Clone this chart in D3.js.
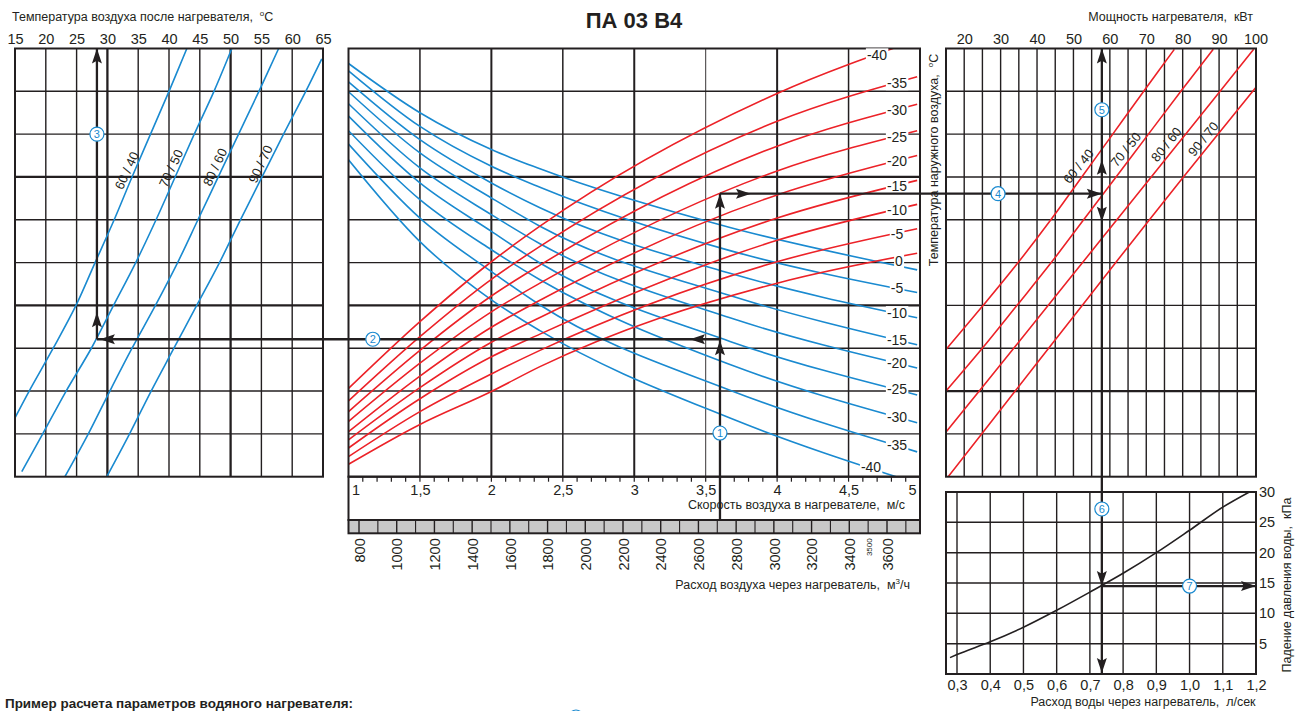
<!DOCTYPE html>
<html lang="ru"><head><meta charset="utf-8"><title>ПА 03 В4</title>
<script src="https://cdn.jsdelivr.net/npm/d3@7/dist/d3.min.js"></script>
<style>html,body{margin:0;padding:0;background:#fff;}svg{display:block;} text{white-space:pre;}</style>
</head><body>
<svg id="chart" width="1300" height="711" viewBox="0 0 1300 711"></svg>
<script>
// ================= DATA =================
const outletTempTicks = [15,20,25,30,35,40,45,50,55,60,65];
const powerTicks = [20,30,40,50,60,70,80,90,100];
const powerGrid = [20,25,30,35,40,45,50,55,60,65,70,75,80,85,90,95];
const speedTicks = [1,1.5,2,2.5,3,3.5,4,4.5,5];
const airFlowTicks = [800,1000,1200,1400,1600,1800,2000,2200,2400,2600,2800,3000,3200,3400,3600];
const airFlowSmallTick = [3500];
const waterFlowTicks = [0.3,0.4,0.5,0.6,0.7,0.8,0.9,1.0,1.1,1.2];
const pressureTicks = [5,10,15,20,25,30];
const regimeNames = ["60 / 40","70 / 50","80 / 60","90 / 70"];
const gridRows = [1,2,3,4,5,6,7,8,9];

// left panel: outlet air temperature of each water regime along the common ordinate rows
const outletRegimeRows = [
  [10,9,8,7,6,5,4,3,2,1.375],
  [10,9,8,7,6,5,4,3,2,1,0.12],
  [10,9,8,7,6,5,4,3,2,1,0],
  [9.76,9,8,7,6,5,4,3,2,1,0]
];
const outletRegimeTemps = [
  [42.9,40.0,37.0,34.0,31.1,28.0,24.9,21.2,17.3,15.0],
  [50.2,47.3,44.1,41.0,37.9,34.6,31.0,27.4,23.3,19.5,16.1],
  [57.8,54.6,51.3,48.0,44.7,41.4,37.8,34.0,30.4,26.9,23.1],
  [64.8,62.2,58.6,55.1,51.6,48.2,44.5,40.8,37.1,33.6,29.9]
];

// centre panel: blue curves (outlet side) per outdoor temperature
const blueOutdoor = [0,-5,-10,-15,-20,-25,-30,-35,-40];
const blueSpeeds = [1,1.5,2,2.34,3.67,4.98];
const blueRows = [
  [9.65,8.50,7.64,7.19,5.82,4.83],
  [9.48,8.18,7.25,6.76,5.28,4.30],
  [9.22,7.87,6.86,6.28,4.75,3.71],
  [8.99,7.56,6.51,5.85,4.23,3.08],
  [8.71,7.21,6.12,5.44,3.71,2.54],
  [8.42,6.86,5.73,4.99,3.16,1.91],
  [8.08,6.47,5.30,4.60,2.62,1.26],
  [7.77,6.04,4.79,4.01,2.02,0.58],
  [7.40,5.49,4.13,3.41,1.37,-0.16]
];
// centre panel: red curves (power side) per outdoor temperature
const redOutdoor = [-40,-35,-30,-25,-20,-15,-10,-5,0];
const redSpeeds = [1,1.5,2,2.34,4,4.98];
const redRows = [
  [2.06,3.62,5.02,5.85,8.95,10.2],
  [1.77,3.27,4.61,5.38,8.30,9.34],
  [1.52,2.95,4.22,4.94,7.72,8.70],
  [1.29,2.65,3.85,4.52,7.14,8.08],
  [1.05,2.35,3.49,4.12,6.58,7.50],
  [0.86,2.08,3.14,3.72,6.04,6.92],
  [0.67,1.82,2.80,3.33,5.52,6.36],
  [0.47,1.52,2.40,2.95,5.02,5.79],
  [0.29,1.22,1.99,2.57,4.52,5.22]
];

// right panel: heater power of each water regime along the ordinate rows
const powerRegimeRows = [
  [2.96,3.99,4.99,6,7,8,9,9.98],
  [1.99,2.98,3.99,5,6,7,8,9,9.98],
  [1.03,3,5.52,8,9.98],
  [0,2,4,5.53,7,9.11]
];
const powerRegimeKW = [
  [14.9,25.1,34.7,43.8,52.3,60.8,69.3,77.7],
  [14.9,24.8,34.4,43.9,52.8,61.7,70.6,79.5,88.4],
  [14.9,33.6,57.4,80.8,99.5],
  [15.6,34.0,52.4,66.5,80.2,100.3]
];

// lower right: water pressure drop
const waterFlow = [0.279,0.3,0.4,0.5,0.6,0.7,0.8,0.9,1.0,1.1,1.18];
const pressureDrop = [2.7,3.2,5.3,7.7,10.5,13.5,16.6,20.0,23.7,27.5,30.0];

// worked example
const exampleSpeed = 3.6;
const exampleOutletRow = 3.21;
const examplePowerRow = 6.61;
const exampleOutletTemp = 28.3;
const examplePower = 57.8;
const examplePressure = 14.5;

// ================= DRAWING =================
const FONT = "'Liberation Sans', Arial, Helvetica, sans-serif";
const INK = "#231f20", BLUE = "#1a8ad0", RED = "#ec2228";
const NB = "\u00a0";
const svg = d3.select("#chart");
svg.append("rect").attr("width",1300).attr("height",711).attr("fill","#fff");

const P = {top:48.5, bottom:476.7, lx0:15, lx1:323, cx0:348.5, cx1:920, rx0:946, rx1:1256, ly0:492, ly1:674};
const rowY = d3.scaleLinear().domain([0,10]).range([P.bottom,P.top]);
const outT = d3.scaleLinear().domain([15,65]).range([P.lx0,P.lx1]);
const speedX = d3.scaleLinear().domain([1,5]).range([P.cx0,P.cx1]);
const flowX = d3.scaleLinear().domain([800,3600]).range([359,887]);
const powerX = d3.scaleLinear().domain([15,100]).range([P.rx0,1255.5]);
const waterX = d3.scaleLinear().domain([0.3,1.2]).range([957,P.rx1]);
const pressY = d3.scaleLinear().domain([0,30]).range([P.ly1,P.ly0]);

const defs = svg.append("defs");
function clip(id,x0,y0,x1,y1){defs.append("clipPath").attr("id",id).append("rect").attr("x",x0).attr("y",y0).attr("width",x1-x0).attr("height",y1-y0);}
clip("cl",P.lx0,P.top,P.lx1,P.bottom);
clip("cc",P.cx0,P.top,P.cx1,P.bottom);
clip("cr",P.rx0,P.top,P.rx1,P.bottom);
clip("cw",P.rx0,P.ly0,P.rx1,P.ly1);

function ln(g,x1,y1,x2,y2,w,c){return g.append("line").attr("x1",x1).attr("y1",y1).attr("x2",x2).attr("y2",y2).attr("stroke",c||INK).attr("stroke-width",w);}
function frame(g,x0,y0,x1,y1,w){g.append("rect").attr("x",x0).attr("y",y0).attr("width",x1-x0).attr("height",y1-y0).attr("fill","none").attr("stroke",INK).attr("stroke-width",w||2);}
function txt(g,x,y,s,size,opts){opts=opts||{};const t=g.append("text").attr("x",x).attr("y",y).attr("font-family",FONT).attr("font-size",size).attr("fill",opts.fill||INK).attr("text-anchor",opts.anchor||"start").text(s);if(opts.weight)t.attr("font-weight",opts.weight);if(opts.rot!==undefined)t.attr("transform",`rotate(${opts.rot},${x},${y})`);return t;}
function styleAxis(g,size){g.attr("font-family",FONT).attr("font-size",size);g.select(".domain").remove();g.selectAll(".tick line").remove();g.selectAll("text").attr("fill",INK);return g;}
const comma = d => String(+d.toFixed(2)).replace(".",",");

// ---------- grids ----------
const grid = svg.append("g");
gridRows.forEach(r=>ln(grid,P.lx0,rowY(r),P.lx1,rowY(r),(r===4||r===7)?2.2:1.4));
outletTempTicks.slice(1,-1).forEach(t=>ln(grid,outT(t),P.top,outT(t),P.bottom,(t===30||t===50)?2.3:1.4));
gridRows.forEach(r=>ln(grid,P.cx0,rowY(r),P.cx1,rowY(r),(r===4||r===7)?2.2:1.4));
speedTicks.slice(1,-1).forEach(v=>ln(grid,speedX(v),P.top,speedX(v),P.bottom,v===3.5?0.9:(Number.isInteger(v)?2:1.5)));
gridRows.forEach(r=>ln(grid,P.rx0,rowY(r),P.rx1,rowY(r),r===2?2.2:1.4));
powerGrid.forEach(k=>ln(grid,powerX(k),P.top,powerX(k),P.bottom,1.4));
pressureTicks.slice(0,-1).forEach(p=>ln(grid,P.rx0,pressY(p),P.rx1,pressY(p),1.5));
waterFlowTicks.slice(0,-1).forEach(w=>ln(grid,waterX(w),P.ly0,waterX(w),P.ly1,1.4));

// ---------- curves ----------
const curves = svg.append("g");
const gl = curves.append("g").attr("clip-path","url(#cl)");
outletRegimeRows.forEach((rows,i)=>{
  const pts = rows.map((r,j)=>[outletRegimeTemps[i][j],r]);
  gl.append("path").attr("d",d3.line().x(d=>outT(d[0])).y(d=>rowY(d[1])).curve(d3.curveCatmullRom)(pts))
    .attr("fill","none").attr("stroke",BLUE).attr("stroke-width",1.6);
});
const gc = curves.append("g").attr("clip-path","url(#cc)");
const speedLine = d3.line().x(d=>speedX(d[0])).y(d=>rowY(d[1])).curve(d3.curveMonotoneX);
blueRows.forEach(rows=>{
  gc.append("path").attr("d",speedLine(rows.map((r,j)=>[blueSpeeds[j],r]))).attr("fill","none").attr("stroke",BLUE).attr("stroke-width",1.6);
});
redRows.forEach(rows=>{
  gc.append("path").attr("d",speedLine(rows.map((r,j)=>[redSpeeds[j],r]))).attr("fill","none").attr("stroke",RED).attr("stroke-width",1.6);
});
const gr = curves.append("g").attr("clip-path","url(#cr)");
powerRegimeRows.forEach((rows,i)=>{
  const pts = rows.map((r,j)=>[powerRegimeKW[i][j],r]);
  gr.append("path").attr("d",d3.line().x(d=>powerX(d[0])).y(d=>rowY(d[1])).curve(d3.curveCatmullRom)(pts))
    .attr("fill","none").attr("stroke",RED).attr("stroke-width",1.6);
});
const gw = curves.append("g").attr("clip-path","url(#cw)");
gw.append("path").attr("d",d3.line().x(d=>waterX(d)).y((d,i)=>pressY(pressureDrop[i])).curve(d3.curveMonotoneX)(waterFlow))
  .attr("fill","none").attr("stroke",INK).attr("stroke-width",1.6);

// ---------- frames ----------
frame(svg,P.lx0,P.top,P.lx1,P.bottom);
frame(svg,P.cx0,P.top,P.cx1,P.bottom);
frame(svg,P.rx0,P.top,P.rx1,P.bottom);
frame(svg,P.rx0,P.ly0,P.rx1,P.ly1);

// ---------- centre curve labels (knock-out) ----------
const lab = svg.append("g");
function knockLabel(x,y,s){
  const g = lab.append("g");
  const t = txt(g,x,y,s,14,{anchor:"middle"}).attr("dy","0.36em");
  const b = t.node().getBBox();
  g.insert("rect","text").attr("x",b.x-1).attr("y",b.y+1).attr("width",b.width+2).attr("height",b.height-2).attr("fill","#fff");
}
const rowAt = (speeds,rows,v)=>d3.scaleLinear().domain(speeds).range(rows)(v);
redOutdoor.forEach((t,i)=>{
  if(t===0) return;
  const x = t===-40 ? 877 : 897;
  knockLabel(x,rowY(rowAt(redSpeeds,redRows[i],speedX.invert(x))),String(t));
});
blueOutdoor.forEach((t,i)=>{
  if(t===0) return;
  const x = t===-40 ? 871 : 897;
  knockLabel(x,rowY(rowAt(blueSpeeds,blueRows[i],speedX.invert(x))),String(t));
});
{
  const v = speedX.invert(899);
  const y = (rowY(rowAt(redSpeeds,redRows[8],v))+rowY(rowAt(blueSpeeds,blueRows[0],v)))/2;
  knockLabel(899,y,"0");
}

// ---------- regime labels ----------
const leftLabelRows = [7.15,7.2,7.23,7.3];
regimeNames.forEach((s,i)=>{
  const temp = d3.scaleLinear().domain(outletRegimeRows[i]).range(outletRegimeTemps[i])(leftLabelRows[i]);
  const x = outT(temp)-8, y = rowY(leftLabelRows[i]);
  txt(lab,x,y,s,13,{anchor:"middle",rot:-65}).attr("dy","0.35em");
});
const rightLabelRows = [7.25,7.64,7.76,7.89];
regimeNames.forEach((s,i)=>{
  const kw = d3.scaleLinear().domain(powerRegimeRows[i]).range(powerRegimeKW[i])(rightLabelRows[i]);
  const x = powerX(kw)-11, y = rowY(rightLabelRows[i]);
  txt(lab,x,y,s,13,{anchor:"middle",rot:-51}).attr("dy","0.35em");
});

// ---------- axes ----------
styleAxis(svg.append("g").attr("transform","translate(0,43.5)")
  .call(d3.axisTop(outT).tickValues(outletTempTicks).tickSize(0).tickPadding(0)),14.5);
styleAxis(svg.append("g").attr("transform","translate(0,43.5)")
  .call(d3.axisTop(powerX).tickValues(powerTicks).tickSize(0).tickPadding(0)),14.5);

const box = svg.append("g");
box.append("rect").attr("x",P.cx0).attr("y",520).attr("width",P.cx1-P.cx0).attr("height",13.3).attr("fill","#c8c8c8");
d3.range(800,3701,100).forEach(f=>ln(box,flowX(f),520,flowX(f),533.3,f%200===0?1.4:1.1));
frame(box,P.cx0,P.bottom,P.cx1,520);
frame(box,P.cx0,520,P.cx1,533.3);
d3.range(11,50).map(d=>d/10).forEach(v=>ln(box,speedX(v),P.bottom,speedX(v),P.bottom+5,1.2));
const sAx = styleAxis(box.append("g").attr("transform",`translate(0,${P.bottom})`)
  .call(d3.axisBottom(speedX).tickValues(speedTicks).tickSize(0).tickPadding(8).tickFormat(comma)),14.5);
sAx.selectAll(".tick text").attr("dx",(d,i)=>i===0?7:(i===speedTicks.length-1?-8:0));
txt(box,905,509,"Скорость воздуха в нагревателе,"+NB+" м/с",12.5,{anchor:"end"});
const fAx = styleAxis(box.append("g").attr("transform","translate(0,533.3)")
  .call(d3.axisBottom(flowX).tickValues(airFlowTicks).tickSize(0).tickFormat(d=>String(d))),14.5);
fAx.selectAll(".tick text").attr("y",0).attr("x",-5).attr("dy","0.36em").attr("transform","rotate(-90)").attr("text-anchor","end");
const fAx2 = styleAxis(box.append("g").attr("transform","translate(0,533.3)")
  .call(d3.axisBottom(flowX).tickValues(airFlowSmallTick).tickSize(0).tickFormat(d=>String(d))),8);
fAx2.selectAll(".tick text").attr("y",0).attr("x",-5).attr("dy","0.36em").attr("transform","rotate(-90)").attr("text-anchor","end");
const ft = txt(box,910,589,"Расход воздуха через нагреватель,"+NB+" м",12.5,{anchor:"end"});
ft.append("tspan").attr("font-size",8).attr("dy",-5).text("3");
ft.append("tspan").attr("dy",5).text("/ч");

styleAxis(svg.append("g").attr("transform",`translate(${P.rx1},0)`)
  .call(d3.axisRight(pressY).tickValues(pressureTicks).tickSize(0).tickPadding(3)),14.5);
styleAxis(svg.append("g").attr("transform",`translate(0,${P.ly1})`)
  .call(d3.axisBottom(waterX).tickValues(waterFlowTicks).tickSize(0).tickPadding(6).tickFormat(d=>d.toFixed(1).replace(".",","))),14.5);

// ---------- titles ----------
txt(svg,634,28,"ПА 03 В4",22,{anchor:"middle",weight:"bold"});
const t1 = txt(svg,12,20.5,"Температура воздуха после нагревателя,"+NB+" ",12.5);
t1.append("tspan").attr("font-size",8).attr("dy",-5).text("o"); t1.append("tspan").attr("dy",5).text("C");
const t2 = txt(svg,1253,20.5,"Мощность нагревателя,"+NB+" кВт",12.5,{anchor:"end"});
const t3 = txt(svg,937.5,160,"Температура наружного воздуха,"+NB+" ",12.5,{anchor:"middle",rot:-90});
t3.append("tspan").attr("font-size",8).attr("dy",-5).text("o"); t3.append("tspan").attr("dy",5).text("C");
txt(svg,1291,585,"Падение давления воды,"+NB+" кПа",12.5,{anchor:"middle",rot:-90});
txt(svg,1143,706,"Расход воды через нагреватель,"+NB+" л/сек",12.5,{anchor:"middle"});
txt(svg,5,708,"Пример расчета параметров водяного нагревателя:",13,{weight:"bold"}).attr("textLength",348).attr("lengthAdjust","spacingAndGlyphs");

// ---------- worked example ----------
const ex = svg.append("g");
const xs = speedX(exampleSpeed), yo = rowY(exampleOutletRow), yp = rowY(examplePowerRow);
const xt = outT(exampleOutletTemp), xp = powerX(examplePower), yw = pressY(examplePressure);
ln(ex,xs,520,xs,yp,2.3);
ln(ex,xs,yo,xt,yo,2.3);
ln(ex,xt,yo,xt,P.top,2.3);
ln(ex,xs,yp,xp,yp,2.3);
ln(ex,xp,P.top,xp,P.ly1,2.3);
ln(ex,xp,yw,P.rx1,yw,2.3);
function arrow(x,y,dir){
  const L=15, w=5, n=L*0.82;
  const r = {up:0,right:90,down:180,left:270}[dir];
  ex.append("path").attr("d",`M0,0L${-w},${L}L0,${n}L${w},${L}Z`).attr("fill",INK)
    .attr("transform",`translate(${x},${y}) rotate(${r})`);
}
arrow(xs,yo+1,"up"); arrow(xs,yp,"up");
arrow(xs-30,yo,"left"); arrow(xt+3,yo,"left");
arrow(xt,yo-27,"up"); arrow(xt,P.top,"up");
arrow(xs+31,yp,"right"); arrow(xp,yp,"right");
arrow(xp,P.top,"up"); arrow(xp,yp-34,"up"); arrow(xp,yp+28,"down");
arrow(xp,yw,"down"); arrow(xp,P.ly1-1,"down");
arrow(P.rx1,yw,"right");

function marker(x,y,n){
  ex.append("circle").attr("cx",x).attr("cy",y).attr("r",7).attr("fill","#fff").attr("stroke",BLUE).attr("stroke-width",1.2);
  txt(ex,x,y,String(n),11,{anchor:"middle",fill:BLUE}).attr("dy","0.36em");
}
marker(xs,rowY(1.02),1);
marker(speedX(1.17),yo,2);
marker(xt,rowY(8),3);
marker(powerX(29.3),yp,4);
marker(xp,rowY(8.57),5);
marker(xp,pressY(27.2),6);
marker(waterX(1.0),yw,7);
ex.append("circle").attr("cx",576).attr("cy",717).attr("r",7).attr("fill","#fff").attr("stroke",BLUE).attr("stroke-width",1.2);
</script>
</body></html>
